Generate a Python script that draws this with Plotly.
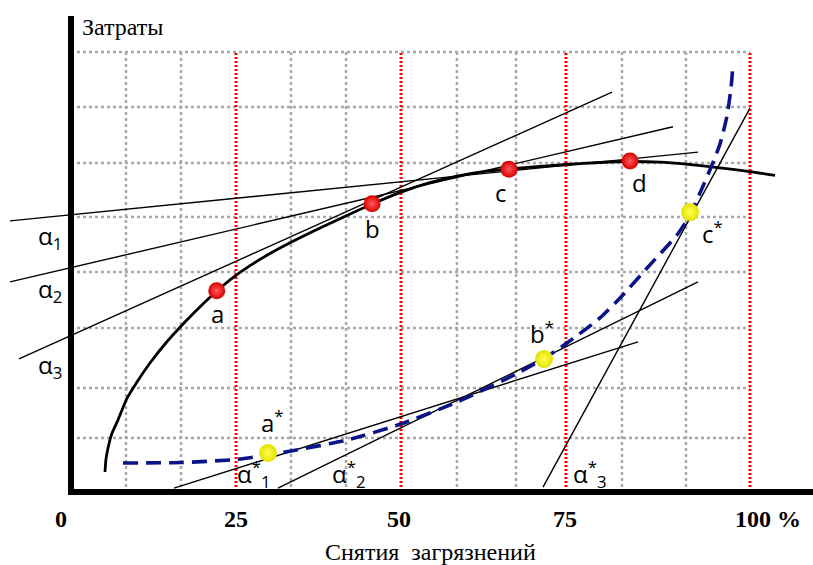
import plotly.graph_objects as go

# ---------------- data (x: % removal, y: cost units) ----------------
curve_x = [5.15, 5.30, 5.61, 6.17, 7.12, 8.44, 10.0, 11.97, 14.24, 17.27, 20.30, 22.12,
           24.09, 27.12, 30.15, 33.18, 37.73, 41.67, 45.61, 50.0, 54.39, 58.48, 62.73,
           66.36, 71.06, 75.15, 80.15, 84.70, 89.24, 93.18, 98.33, 102.88, 106.67]
curve_y = [0.364, 0.600, 0.800, 1.055, 1.309, 1.691, 2.0, 2.345, 2.691, 3.091, 3.455, 3.655,
           3.858, 4.116, 4.335, 4.531, 4.80, 5.02, 5.236, 5.453, 5.624, 5.745, 5.831,
           5.873, 5.918, 5.955, 5.991, 6.009, 5.996, 5.96, 5.895, 5.827, 5.755]

dash_x = [7.88, 16.67, 25.0, 29.85, 33.33, 41.82, 50.0, 58.48, 67.42, 71.52, 75.15, 80.15,
          83.48, 87.42, 91.82, 93.79, 95.30, 97.12, 98.33, 99.39, 100.0, 100.30]
dash_y = [0.527, 0.536, 0.591, 0.673, 0.745, 0.945, 1.236, 1.636, 2.145, 2.418, 2.709, 3.164,
          3.564, 4.091, 4.673, 5.036, 5.436, 5.945, 6.327, 6.836, 7.345, 7.764]

# tangent lines: (x0, y0) -> (x1, y1)
tan_x0 = [-9.24, -9.24, -7.88, 15.61, 31.36, 71.52]
tan_y0 = [4.93, 3.82, 2.42, 0.07, 0.07, 0.09]
tan_x1 = [95.0, 91.21, 81.97, 85.91, 95.0, 102.88]
tan_y1 = [6.18, 6.64, 7.27, 2.73, 3.82, 6.98]

red_names = ["a", "b", "c", "d"]
red_x = [22.08, 45.61, 66.36, 84.70]
red_y = [3.66, 5.24, 5.87, 6.02]

yel_names = ["a*", "b*", "c*"]
yel_x = [29.85, 71.67, 93.79]
yel_y = [0.71, 2.42, 5.09]

grid_gray_x = [8.33, 16.67, 33.33, 41.67, 58.48, 67.42, 83.48, 93.18]
grid_red_x = [25, 50, 75, 102.88]
grid_y = [0.98, 1.89, 2.98, 4.0, 5.0, 5.98, 7.0, 8.0]

tick_text = ["0", "25", "50", "75", "100 %"]
tick_pos = [-1.52, 25.0, 49.7, 74.85, 105.6]

# ---------------- layout geometry ----------------
X_RANGE = [-10.7576, 112.4242]
Y_RANGE = [-1.3273, 8.9455]
Y_TOP = 8.0
Y_BOT = 0.09

fig = go.Figure()

shapes = []
for gx in grid_gray_x:
    shapes.append(dict(type="line", x0=gx, x1=gx, y0=Y_BOT, y1=Y_TOP, layer="below",
                       line=dict(color="#a9a9a9", width=2.5, dash="dot")))
for gy in grid_y:
    shapes.append(dict(type="line", x0=0, x1=grid_red_x[-1], y0=gy, y1=gy, layer="below",
                       line=dict(color="#a9a9a9", width=2.5, dash="dot")))
for rx in grid_red_x:
    shapes.append(dict(type="line", x0=rx, x1=rx, y0=Y_BOT, y1=Y_TOP, layer="below",
                       line=dict(color="#ff0000", width=3, dash="2px,2px")))

# tangent lines
for x0, y0, x1, y1 in zip(tan_x0, tan_y0, tan_x1, tan_y1):
    fig.add_trace(go.Scatter(x=[x0, x1], y=[y0, y1], mode="lines",
                             line=dict(color="black", width=1.4), hoverinfo="skip"))

fig.add_trace(go.Scatter(x=curve_x, y=curve_y, mode="lines",
                         line=dict(color="black", width=2.8, shape="spline", smoothing=0.5)))
fig.add_trace(go.Scatter(x=dash_x, y=dash_y, mode="lines",
                         line=dict(color="#0a1488", width=3.6, dash="15px,8px",
                                   shape="spline", smoothing=0.6)))

fig.add_trace(go.Scatter(x=red_x, y=red_y, mode="markers", name="red",
                         marker=dict(size=17, color="#d80000", line=dict(width=0),
                                     gradient=dict(type="radial", color="#ff5a5a"))))
fig.add_trace(go.Scatter(x=yel_x, y=yel_y, mode="markers", name="yellow",
                         marker=dict(size=18, color="#e2e200", line=dict(width=0),
                                     gradient=dict(type="radial", color="#ffff55"))))

# axes (thick black lines) drawn on top
shapes.append(dict(type="line", x0=0, x1=0, y0=-0.055, y1=8.655, layer="above",
                   line=dict(color="black", width=6)))
shapes.append(dict(type="line", x0=-0.45, x1=X_RANGE[1] + 1, y0=0, y1=0, layer="above",
                   line=dict(color="black", width=6)))

ann = []
serif = "Liberation Serif, Times New Roman, serif"
sans = "Open Sans, Noto Sans, sans-serif"
for t, p in zip(tick_text, tick_pos):
    ann.append(dict(x=p, y=-0.49, text=f"<b>{t}</b>", showarrow=False,
                    xanchor="center", yanchor="middle",
                    font=dict(family=serif, size=24, color="black")))
ann.append(dict(x=1.36, y=8.45, text="Затраты", showarrow=False, xanchor="left",
                yanchor="middle", font=dict(family=serif, size=24, color="black")))
ann.append(dict(x=54.4, y=-1.09, text="Снятия\u00a0 загрязнений", showarrow=False,
                xanchor="center", yanchor="middle",
                font=dict(family=serif, size=24, color="black")))

LAB = 24
# point labels
lab_text = ["a", "b", "c", "d"]
lab_x = [22.2, 45.7, 65.2, 86.1]
lab_y = [3.25, 4.79, 5.44, 5.62]
for t, x, y in zip(lab_text, lab_x, lab_y):
    ann.append(dict(x=x, y=y, text=t, showarrow=False, xanchor="center", yanchor="middle",
                    font=dict(family=sans, size=LAB, color="black")))

star_text = ["a<sup>*</sup>", "b<sup>*</sup>", "c<sup>*</sup>"]
star_x = [28.5, 69.24, 95.3]
star_y = [0.927, 2.545, 4.364]
for t, x, y in zip(star_text, star_x, star_y):
    ann.append(dict(x=x, y=y, text=t, showarrow=False, xanchor="left", yanchor="bottom",
                    font=dict(family=sans, size=LAB, color="black")))

alpha_text = ["α<sub>1</sub>", "α<sub>2</sub>", "α<sub>3</sub>",
              "α<sup>*</sup><sub>1</sub>", "α<sup>*</sup><sub>2</sub>", "α<sup>*</sup><sub>3</sub>"]
alpha_x = [-5.30, -5.30, -5.30, 24.85, 39.24, 75.76]
alpha_y = [4.273, 3.309, 1.927, -0.055, -0.055, -0.055]
for t, x, y in zip(alpha_text, alpha_x, alpha_y):
    ann.append(dict(x=x, y=y, text=t, showarrow=False, xanchor="left", yanchor="bottom",
                    font=dict(family=sans, size=LAB, color="black")))

fig.update_layout(
    width=813, height=565, autosize=False,
    margin=dict(l=0, r=0, t=0, b=0, pad=0),
    paper_bgcolor="white", plot_bgcolor="white",
    showlegend=False,
    xaxis=dict(range=X_RANGE, visible=False, fixedrange=True),
    yaxis=dict(range=Y_RANGE, visible=False, fixedrange=True),
    shapes=shapes, annotations=ann,
)

fig.write_html("out.html", config={"displayModeBar": False},
               post_script="document.body.style.margin='0px';document.body.style.overflow='hidden';")
